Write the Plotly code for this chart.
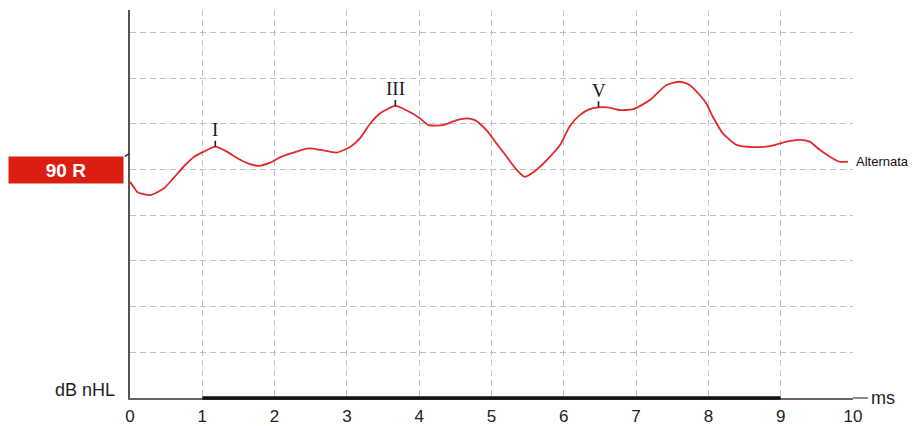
import plotly.graph_objects as go

# ABR waveform (latency in ms, amplitude in grid divisions above the baseline axis)
latency_ms = [0.00, 0.05, 0.10, 0.28, 0.47, 0.60, 0.74, 0.88, 1.02, 1.18,
              1.34, 1.48, 1.62, 1.78, 1.94, 2.08, 2.26, 2.47, 2.63, 2.86,
              3.05, 3.18, 3.32, 3.46, 3.67, 3.83, 4.01, 4.13, 4.33, 4.52,
              4.66, 4.77, 4.93, 5.07, 5.21, 5.35, 5.46, 5.62, 5.81, 5.95,
              6.08, 6.22, 6.36, 6.48, 6.61, 6.77, 6.96, 7.19, 7.42, 7.60,
              7.74, 7.88, 7.97, 8.06, 8.20, 8.39, 8.62, 8.85, 9.08, 9.26,
              9.40, 9.54, 9.68, 9.81, 9.93]
amplitude = [4.73, 4.62, 4.51, 4.44, 4.59, 4.81, 5.06, 5.27, 5.39, 5.50,
             5.39, 5.25, 5.14, 5.08, 5.15, 5.27, 5.37, 5.46, 5.43, 5.37,
             5.50, 5.68, 6.00, 6.23, 6.39, 6.29, 6.12, 5.97, 5.97, 6.08,
             6.12, 6.08, 5.86, 5.57, 5.28, 4.99, 4.84, 4.99, 5.28, 5.54,
             5.94, 6.19, 6.32, 6.36, 6.36, 6.30, 6.32, 6.52, 6.85, 6.92,
             6.85, 6.63, 6.45, 6.16, 5.79, 5.54, 5.49, 5.51, 5.61, 5.65,
             5.61, 5.43, 5.28, 5.17, 5.17]

# Wave markers
peak_labels = ["I", "III", "V"]
peak_latency = [1.18, 3.67, 6.48]
peak_amplitude = [5.50, 6.39, 6.36]

x_ticks = [0, 1, 2, 3, 4, 5, 6, 7, 8, 9, 10]
analysis_window = [1, 9]
channel_label = "90 R"
channel_level = 5.0
trace_name = "Alternata"

X_RANGE = [0, 10]
Y_RANGE = [0, 8.49]
W, H = 914, 426
M = dict(l=130, r=61, t=10, b=28)
plot_w = W - M["l"] - M["r"]
plot_h = H - M["t"] - M["b"]


def yp(v):
    return (v - Y_RANGE[0]) / (Y_RANGE[1] - Y_RANGE[0])


fig = go.Figure()
fig.add_trace(go.Scatter(
    x=latency_ms, y=amplitude, mode="lines",
    line=dict(color="#df2a2a", width=1.8, shape="spline", smoothing=0.6),
    hoverinfo="skip", showlegend=False,
))

grid = dict(showgrid=True, gridcolor="#c0c0c0", gridwidth=1.3, griddash="6px,4px",
            zeroline=False, dtick=1, automargin=False)

fig.update_xaxes(range=X_RANGE, tickvals=x_ticks, ticktext=[str(t) for t in x_ticks],
                 showline=True, linecolor="#666666", linewidth=1.5,
                 ticks="", ticklabelstandoff=2,
                 tickfont=dict(family="Arial, Liberation Sans", size=17, color="#222"),
                 **grid)
fig.update_yaxes(range=Y_RANGE, showticklabels=False, ticks="",
                 showline=True, linecolor="#555555", linewidth=2, **grid)

shapes = [
    # analysis window bar along the time axis
    dict(type="line", xref="x", yref="paper", x0=analysis_window[0], x1=analysis_window[1],
         y0=0, y1=0, line=dict(color="#111111", width=3.5)),
    # time axis continues past the last gridline
    dict(type="line", xref="paper", yref="paper", x0=1, x1=1 + 15 / plot_w,
         y0=0, y1=0, line=dict(color="#666666", width=1.5)),
    # baseline hook next to the channel tag
    dict(type="line", xref="paper", yref="paper", x0=-5 / plot_w, x1=-1 / plot_w,
         y0=yp(channel_level) + 13 / plot_h, y1=yp(channel_level) + 16 / plot_h,
         line=dict(color="#222222", width=1.5)),
]

annotations = []
for lab, px, py in zip(peak_labels, peak_latency, peak_amplitude):
    annotations.append(dict(
        x=px, y=py, xref="x", yref="y", text=lab, showarrow=True,
        arrowhead=0, arrowwidth=1.6, arrowcolor="#222", ax=0, ay=-17, standoff=0,
        font=dict(family="Liberation Serif, Times New Roman", size=19, color="#1a1a1a"),
        borderpad=0,
    ))

annotations += [
    dict(x=-64 / plot_w, y=channel_level, xref="paper", yref="y", text="<b>%s</b>" % channel_label,
         xanchor="center", yanchor="middle",
         showarrow=False, bgcolor="#dc1e12", width=112, height=24, borderpad=1,
         font=dict(family="Arial, Liberation Sans", size=19, color="white")),
    dict(x=latency_ms[-1], y=amplitude[-1], xref="x", yref="y", text=trace_name,
         xanchor="left", yanchor="middle", xshift=6, showarrow=False,
         font=dict(family="Arial, Liberation Sans", size=13, color="#111")),
    dict(x=-13 / plot_w, y=8 / plot_h, xref="paper", yref="paper", text="dB nHL",
         xanchor="right", yanchor="middle", showarrow=False,
         font=dict(family="Arial, Liberation Sans", size=18, color="#222")),
    dict(x=1 + 16 / plot_w, y=0, xref="paper", yref="paper", text="ms",
         xanchor="left", yanchor="middle", showarrow=False,
         font=dict(family="Arial, Liberation Sans", size=18, color="#222")),
]

fig.update_layout(
    width=W, height=H, margin=M,
    paper_bgcolor="white", plot_bgcolor="white",
    shapes=shapes, annotations=annotations, showlegend=False,
)

fig.write_html("out.html")
